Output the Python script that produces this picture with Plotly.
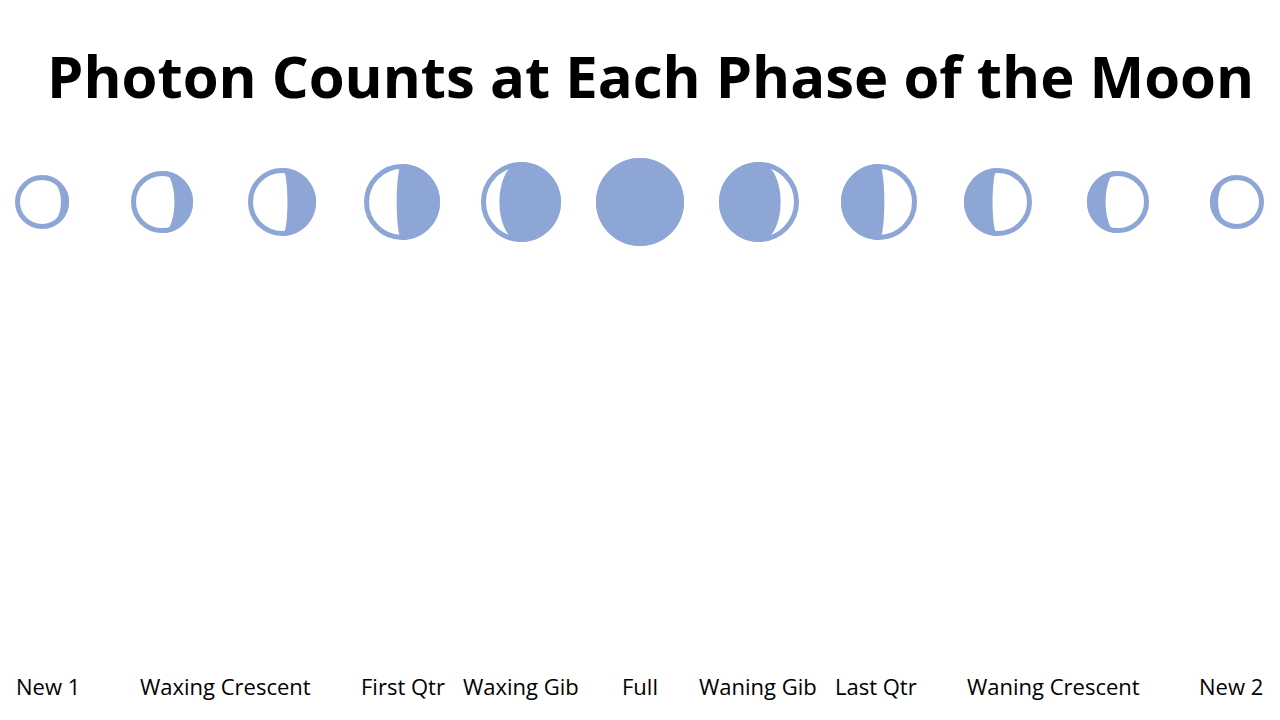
import plotly.graph_objects as go
import numpy as np

title = "Photon Counts at Each Phase of the Moon"
count_labels = ["29,400","29,800","29,900","30,000","29,700","29,750","30,100","29,900","29,600","29,500","29,650"]
bar_heights = [86,165,226,329,147,165,352,226,126,113,147]  # relative heights
axis_labels = ["New 1","Waxing Crescent","First Qtr","Waxing Gib","Full","Waning Gib","Last Qtr","Waning Crescent","New 2"]
axis_label_pos = [0,1.5,3,4,5,6,7,8.5,10]
moon_fill = [0.15,0.3,0.42,0.57,0.77,1.0,0.77,0.57,0.42,0.3,0.15]
moon_side = [1,1,1,1,1,1,-1,-1,-1,-1,-1]  # 1 = filled on right
moon_r = [27,31,34,38,40,44,40,38,34,31,27]
moon_x = [42,162,282,402,521,640,759,879,998,1118,1237]

BLUE = "#8da6d6"
BAR = "#a8bce3"
OFF = 8  # page body margin
fig = go.Figure()
x = list(range(len(bar_heights)))
fig.add_bar(x=x, y=bar_heights, width=0.56, marker_color=BAR, text=count_labels,
            textposition="inside", insidetextanchor="start", textangle=-90,
            textfont=dict(size=19, color="black", family="Open Sans"), hoverinfo="skip")

shapes = []
cy = 202
for cx, r, f, s in zip(moon_x, moon_r, moon_fill, moon_side):
    t = np.linspace(-np.pi/2, np.pi/2, 60)
    pts = [(cx + s*r*np.cos(a), cy + r*np.sin(a)) for a in t]
    a_t = r*(1-2*f)
    for a in t[::-1]:
        pts.append((cx + s*a_t*np.cos(a), cy + r*np.sin(a)))
    path = "M " + " L ".join(f"{px:.1f},{py:.1f}" for px, py in pts) + " Z"
    shapes.append(dict(type="path", path=path, xref="x2", yref="y2", fillcolor=BLUE, line_width=0))
    rr = r - 2.5
    shapes.append(dict(type="circle", xref="x2", yref="y2", x0=cx-rr, x1=cx+rr, y0=cy-rr, y1=cy+rr,
                       line=dict(color=BLUE, width=5)))

base = (720 - 667 + OFF) / 720
ann = [dict(text=f"<b>{title}</b>", x=(650-OFF)/1280, y=1-(75-OFF)/720, xref="paper", yref="paper", showarrow=False,
            font=dict(size=58, color="black", family="Open Sans"), xanchor="center", yanchor="middle")]
for lab, p in zip(axis_labels, axis_label_pos):
    ann.append(dict(text=lab, x=p, y=base, xref="x", yref="paper", yanchor="top", xanchor="center",
                    showarrow=False, yshift=-2, font=dict(size=22, color="black", family="Open Sans")))

unit = (1231-48)/10
fig.update_layout(width=1280, height=720, margin=dict(l=0, r=0, t=0, b=0), showlegend=False,
                  plot_bgcolor="white", paper_bgcolor="white", shapes=shapes, annotations=ann,
                  xaxis=dict(range=[-(48-OFF)/unit, (1280-48+OFF)/unit], visible=False, domain=[0,1]),
                  yaxis=dict(range=[0,667-OFF], visible=False, domain=[base,1]),
                  xaxis2=dict(range=[OFF,1280+OFF], visible=False, domain=[0,1], anchor="y2"),
                  yaxis2=dict(range=[720+OFF,OFF], visible=False, domain=[0,1], anchor="x2"))
fig.add_scatter(x=[0], y=[0], xaxis="x2", yaxis="y2", mode="markers", marker_opacity=0, hoverinfo="skip")
fig.write_html("out.html")
